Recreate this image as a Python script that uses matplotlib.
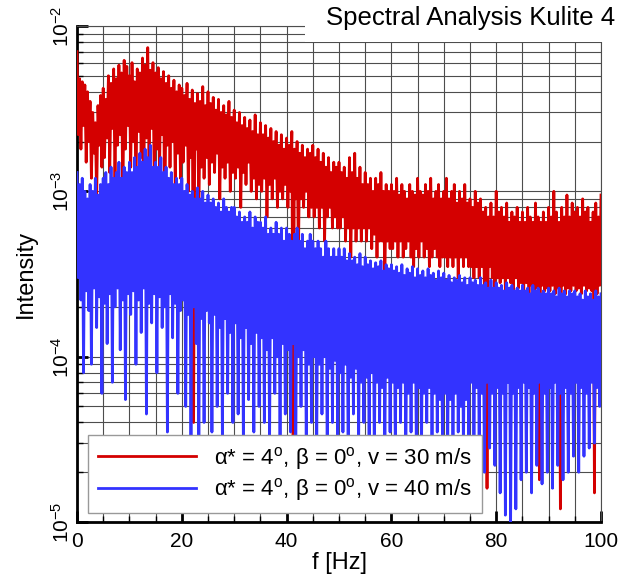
import matplotlib
matplotlib.use('Agg')
import matplotlib.pyplot as plt
import numpy as np
from matplotlib.patches import Rectangle
from matplotlib.ticker import LogLocator, MultipleLocator, NullFormatter

plt.rcParams['font.family'] = ['Liberation Sans', 'DejaVu Sans']
plt.rcParams['mathtext.fontset'] = 'custom'
plt.rcParams['mathtext.rm'] = 'Liberation Sans'
plt.rcParams['mathtext.it'] = 'Liberation Sans:italic'

# frequency step of the read-off spectrum [Hz]
df_hz = 0.25

# intensity, in units of 1e-4, one value every 0.25 Hz
red_e4 = [
    70, 22, 48, 18, 46, 25, 44, 15, 40, 20, 35, 12, 30, 17, 26, 9, 33, 19, 38, 14,
    42, 16, 36, 21, 50, 13, 45, 24, 55, 11, 48, 19, 58, 22, 52, 8, 62, 18, 57, 25,
    50, 14, 60, 20, 46, 9, 55, 23, 52, 16, 64, 12, 58, 21, 74, 15, 54, 24, 60, 10,
    52, 18, 56, 13, 48, 22, 53, 6, 45, 19, 50, 14, 42, 20, 47, 11, 40, 17, 44, 12,
    42, 15, 38, 19, 45, 10, 36, 16, 41, 0.4, 34, 18, 39, 7, 35, 14, 43, 12, 33, 16,
    40, 11, 34, 15, 37, 13, 31, 17, 36, 9, 30, 14, 33, 12, 29, 15, 35, 10, 28, 13,
    31, 12, 26, 14, 30, 8, 25, 13, 28, 11, 24, 15, 27, 10, 23, 12, 29, 9, 22, 11,
    26, 10, 22, 12, 25, 7, 21, 11, 24, 9, 20, 12, 23, 8, 19, 10, 22, 9, 18, 11,
    21, 8, 19, 10, 23, 0.33, 18, 9, 20, 4, 17, 9, 19, 8, 16, 10, 18, 7, 17, 8,
    19, 7, 16, 8, 18, 6, 15, 8, 17, 5, 14, 7, 16, 8, 13, 6, 15, 7, 14, 6,
    15, 6, 13, 7, 14, 5, 12, 6, 16, 4, 13, 6, 17, 5, 12, 6, 14, 5, 11, 6,
    13, 5, 11, 6, 12, 4.5, 10, 5.5, 12, 4, 11, 5, 13, 5, 10, 3, 11, 5, 10, 4.5,
    11, 4.5, 10, 5, 12, 4, 9.5, 5, 11, 4, 10, 4.5, 9, 5, 11, 4, 10, 3.5, 9.5, 4.5,
    12, 4, 10, 5, 9.5, 4, 11, 4.5, 10, 3.5, 12, 4, 9, 4.5, 10, 4, 11, 3.5, 9, 4,
    10, 4, 12, 3.5, 9, 4, 10, 3.5, 11, 4, 8.5, 3, 10, 4, 9, 3.5, 11, 4, 8.5, 3.5,
    9, 3.5, 8, 3, 10, 3.5, 8.5, 3, 9, 3.5, 7.5, 2.5, 8, 0.16, 7, 3.5, 8.5, 3, 7, 2.5,
    10, 3, 7.5, 2.8, 8, 3, 7, 2.5, 8.5, 3, 6.5, 2.8, 7.5, 2.5, 7, 3, 8, 2.6, 6.5, 2.8,
    7.5, 2.5, 6.5, 2.8, 8, 2.4, 7, 2.7, 6.5, 2.5, 8.5, 2.6, 7, 0.18, 6.5, 2.7, 7.5, 2.5, 6.5, 2.6,
    8, 2.5, 7, 2.7, 10, 2.4, 7.5, 2.6, 6.5, 0.12, 8, 2.7, 7, 2.4, 9.5, 2.6, 7, 2.5, 8.5, 2.7,
    7.5, 2.5, 8, 2.6, 7, 2.4, 9, 2.7, 7.5, 2.5, 8, 2.6, 6.5, 2.5, 7.5, 0.15, 8.5, 2.4, 7, 2.7,
    9.5,
]

blue_e4 = [
    13, 3, 11, 2.2, 12, 0.8, 10, 2.5, 9, 1.9, 11, 0.9, 10, 2.6, 12, 1.5, 9.5, 2.3, 11, 0.6,
    12, 2.1, 13, 1.2, 11, 2.4, 14, 0.7, 12, 2.0, 13, 2.6, 15, 1.1, 12, 2.2, 14, 0.55, 13, 2.4,
    15, 1.8, 13, 2.5, 16, 0.9, 14, 2.2, 17, 1.4, 15, 2.6, 18, 0.45, 16, 2.1, 19, 1.6, 14, 2.4,
    15, 0.8, 14, 2.3, 16, 1.5, 13, 2.0, 14, 0.35, 12, 2.4, 13, 1.3, 11, 2.1, 12, 0.6, 11, 1.9,
    12, 2.2, 10, 0.5, 11, 1.8, 9.5, 0.3, 10, 2.0, 9, 1.2, 10.5, 0.25, 9, 1.7, 10, 0.4, 8.5, 1.9,
    9.5, 1.6, 8.5, 0.35, 9, 1.8, 8, 0.5, 8.5, 1.5, 7.5, 0.3, 9, 1.7, 8, 0.6, 7.5, 1.4, 8, 0.4,
    8, 1.6, 7, 0.45, 7.5, 1.3, 6.5, 0.3, 7, 1.5, 6.5, 0.55, 7.5, 1.2, 6, 0.35, 7, 1.4, 6.5, 0.5,
    6.5, 1.3, 6, 0.4, 7, 1.1, 5.5, 0.3, 6, 1.3, 5.5, 0.6, 6.5, 1.0, 5.5, 0.28, 6, 1.2, 5, 0.45,
    6, 1.1, 5.5, 0.35, 5, 1.2, 5.5, 0.25, 6, 1.0, 5, 0.5, 5.5, 1.1, 4.5, 0.3, 5, 0.9, 5.5, 0.4,
    5, 1.0, 4.5, 0.3, 5, 0.9, 4.5, 0.45, 4, 1.0, 5, 0.25, 4.5, 0.85, 4, 0.4, 4.5, 0.95, 4, 0.3,
    4.5, 0.8, 4, 0.35, 4.5, 0.9, 3.8, 0.25, 4.2, 0.75, 3.8, 0.45, 4, 0.85, 3.6, 0.3, 4.2, 0.7, 3.5, 0.4,
    4, 0.75, 3.6, 0.3, 3.8, 0.8, 3.4, 0.22, 3.7, 0.7, 3.5, 0.4, 3.8, 0.65, 3.3, 0.28, 3.6, 0.75, 3.4, 0.35,
    3.6, 0.7, 3.3, 0.25, 3.5, 0.65, 3.2, 0.4, 3.6, 0.7, 3.1, 0.22, 3.4, 0.6, 3.2, 0.35, 3.5, 0.7, 3.0, 0.3,
    3.4, 0.65, 3.1, 0.28, 3.3, 0.6, 3.0, 0.4, 3.4, 0.65, 3.1, 0.25, 3.2, 0.6, 2.9, 0.35, 3.3, 0.55, 3.0, 0.3,
    3.2, 0.6, 2.9, 0.3, 3.1, 0.55, 2.8, 0.22, 3.0, 0.6, 2.9, 0.35, 3.1, 0.5, 2.8, 0.26, 3.0, 0.55, 2.7, 0.32,
    3.0, 0.7, 2.8, 0.25, 2.9, 0.65, 2.7, 0.3, 3.0, 0.6, 2.7, 0.2, 2.8, 0.7, 2.6, 0.28, 2.9, 0.6, 2.6, 0.22,
    2.8, 0.65, 2.6, 0.15, 2.7, 0.6, 2.5, 0.11, 2.8, 0.7, 2.6, 0.1, 2.7, 0.6, 2.5, 0.12, 2.6, 0.65, 2.5, 0.18,
    2.7, 0.7, 2.5, 0.2, 2.6, 0.65, 2.4, 0.15, 2.7, 0.6, 2.5, 0.22, 2.6, 0.7, 2.4, 0.17, 2.5, 0.6, 2.4, 0.2,
    2.6, 0.65, 2.4, 0.16, 2.5, 0.7, 2.3, 0.22, 2.6, 0.6, 2.4, 0.18, 2.5, 0.65, 2.3, 0.2, 2.5, 0.6, 2.4, 0.25,
    2.5, 0.7, 2.3, 0.2, 2.4, 0.65, 2.2, 0.25, 2.5, 0.6, 2.3, 0.28, 2.4, 0.7, 2.2, 0.3, 2.5, 0.65, 2.3, 0.5,
    2.4,
]

labels = ['α* = 4$^{\\rm o}$, β = 0$^{\\rm o}$, v = 30 m/s',
          'α* = 4$^{\\rm o}$, β = 0$^{\\rm o}$, v = 40 m/s']
title = 'Spectral Analysis Kulite 4'

freq = np.arange(len(red_e4)) * df_hz
red = np.array(red_e4) * 1e-4
blue = np.array(blue_e4) * 1e-4

fig = plt.figure(figsize=(6.3, 5.74), dpi=100)
ax = fig.add_axes([77 / 630, 52 / 574, 524 / 630, 496 / 574])

ax.plot(freq, red, color='#d40000', lw=2.0, label=labels[0], zorder=3)
ax.plot(freq, blue, color='#3333ff', lw=2.0, label=labels[1], zorder=4)

ax.set_yscale('log')
ax.set_xlim(0, 100)
ax.set_ylim(1e-5, 1e-2)

ax.xaxis.set_major_locator(MultipleLocator(20))
ax.xaxis.set_minor_locator(MultipleLocator(5))
ax.yaxis.set_major_locator(LogLocator(base=10))
ax.yaxis.set_minor_locator(LogLocator(base=10, subs=np.arange(2, 10)))
ax.yaxis.set_minor_formatter(NullFormatter())

ax.grid(True, which='both', color='0.3', lw=0.8, zorder=0)
ax.set_axisbelow(True)

ax.tick_params(which='major', direction='in', length=8, width=2, labelsize=15,
               top=False, right=False, color='black')
ax.tick_params(which='minor', direction='in', length=4, width=1, top=False,
               right=False)
ax.tick_params(axis='x', pad=7)
ax.tick_params(axis='y', pad=3)
for lab in ax.get_yticklabels():
    lab.set_rotation(90)
    lab.set_va('center')

for s in ['left', 'bottom']:
    ax.spines[s].set_linewidth(2)
for s in ['top', 'right']:
    ax.spines[s].set_color('0.3')
    ax.spines[s].set_linewidth(0.8)

ax.set_xlabel('f [Hz]', fontsize=17, labelpad=1)
ax.set_ylabel('Intensity', fontsize=17, labelpad=10)

leg = ax.legend(loc='lower left', bbox_to_anchor=(11 / 524, 9 / 496), fontsize=16,
                frameon=True, fancybox=False, framealpha=1, edgecolor='0.6',
                handlelength=4.4, handletextpad=0.8, borderpad=0.45,
                labelspacing=0.2, borderaxespad=0)
leg.get_frame().set_linewidth(1)
for ln in leg.get_lines():
    ln.set_linewidth(2)
leg.set_zorder(10)

# white box behind the title, it hides the top right of the grid
fig.patches.append(Rectangle((305 / 630, 1 - 42 / 574), 325 / 630, 42 / 574,
                             transform=fig.transFigure, facecolor='white',
                             edgecolor='none', zorder=5))
fig.text(615 / 630, 1 - 18 / 574, title, ha='right', va='center', fontsize=18.5,
         zorder=6)

fig.savefig('out.png', dpi=100)
